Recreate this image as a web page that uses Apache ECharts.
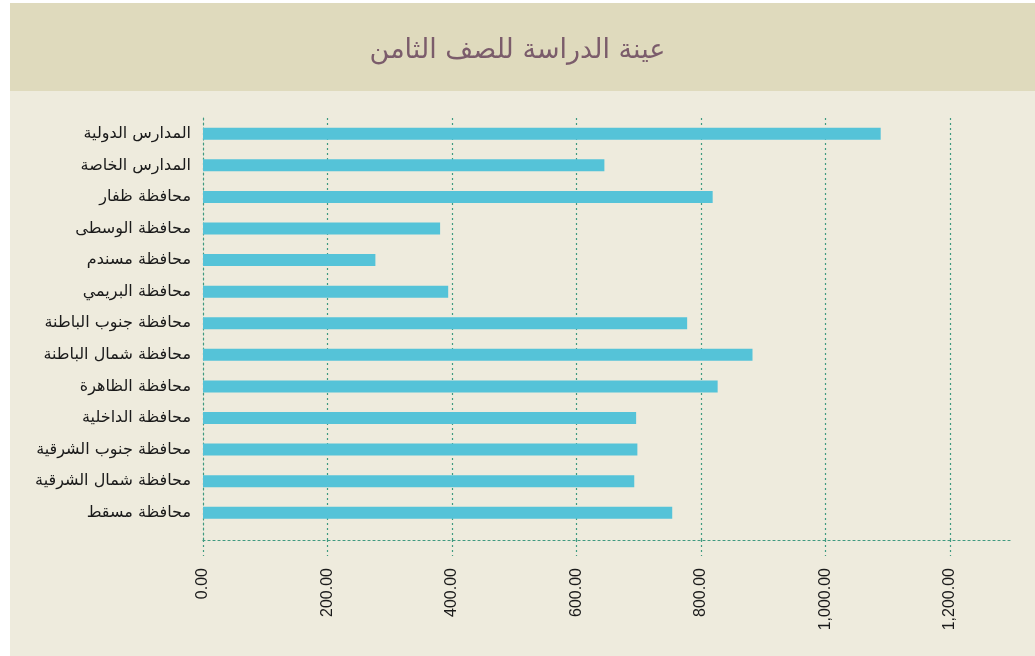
<!DOCTYPE html>
<html>
<head>
<meta charset="utf-8">
<script src="https://cdn.jsdelivr.net/npm/echarts@6/dist/echarts.min.js"></script>
<style>
html,body{margin:0;padding:0;background:#ffffff;}
#chart{width:1035px;height:656px;}
</style>
</head>
<body>
<div id="chart"></div>
<script>
const titleText = 'عينة الدراسة للصف الثامن';
const categories = [
  'المدارس الدولية',
  'المدارس الخاصة',
  'محافظة ظفار',
  'محافظة الوسطى',
  'محافظة مسندم',
  'محافظة البريمي',
  'محافظة جنوب الباطنة',
  'محافظة شمال الباطنة',
  'محافظة الظاهرة',
  'محافظة الداخلية',
  'محافظة جنوب الشرقية',
  'محافظة شمال الشرقية',
  'محافظة مسقط'
];
const values = [1089, 645, 819, 381, 277, 394, 778, 883, 827, 696, 698, 693, 754];
const xTicks = [0, 200, 400, 600, 800, 1000, 1200];

const gridColor = '#3f9a80';
const dotted = {color: gridColor, width: 1.2, type: [2, 3]};

const chart = echarts.init(document.getElementById('chart'), null, {renderer: 'canvas'});
chart.setOption({
  backgroundColor: '#ffffff',
  animation: false,
  graphic: [
    {type: 'rect', z: -10, shape: {x: 10, y: 3, width: 1025, height: 88}, style: {fill: '#dfdabd'}},
    {type: 'rect', z: -10, shape: {x: 10, y: 91, width: 1025, height: 565}, style: {fill: '#eeebdd'}}
  ],
  title: {
    text: titleText,
    left: 'center',
    top: 32,
    textStyle: {fontFamily: 'DejaVu Sans', fontSize: 27, fontWeight: 'normal', color: '#7b5c6b'}
  },
  grid: [
    {left: 203, right: 23, top: 118, bottom: 116},
    {left: 203, right: 23, top: 118, bottom: 127.5}
  ],
  xAxis: [
    {
      type: 'value', gridIndex: 0, min: 0, max: 1300, interval: 200,
      axisLine: {show: true, lineStyle: dotted},
      axisTick: {show: true, length: 16, lineStyle: dotted, customValues: xTicks},
      splitLine: {show: true, lineStyle: dotted, showMinLine: false},
      axisLabel: {
        show: true, rotate: 90, margin: 28, customValues: xTicks,
        fontFamily: 'Liberation Sans', fontSize: 16, color: '#1a1a1a',
        formatter: v => v.toLocaleString('en-US', {minimumFractionDigits: 2, maximumFractionDigits: 2})
      }
    },
    {
      type: 'value', gridIndex: 1, min: 0, max: 1300, show: false
    }
  ],
  yAxis: [
    {
      type: 'value', gridIndex: 0, min: 0, max: 1,
      axisLine: {show: true, lineStyle: dotted},
      axisTick: {show: false}, axisLabel: {show: false}, splitLine: {show: false}
    },
    {
      type: 'category', gridIndex: 1, data: categories, inverse: true,
      axisLine: {show: false}, axisTick: {show: false}, splitLine: {show: false},
      axisLabel: {margin: 12, fontFamily: 'DejaVu Sans', fontSize: 16, color: '#1a1a1a'}
    }
  ],
  series: [
    {
      type: 'bar', xAxisIndex: 1, yAxisIndex: 1, data: values, barWidth: 12,
      itemStyle: {color: '#55c3d8'}
    }
  ]
});
</script>
</body>
</html>
